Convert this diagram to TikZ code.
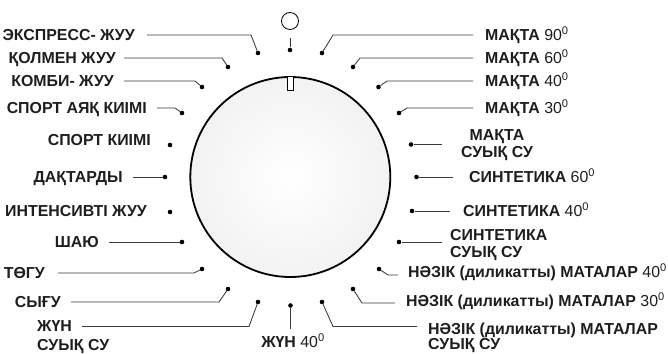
\documentclass[tikz,border=0pt]{standalone}
\usepackage{fontspec}
\setmainfont{Liberation Sans}
\usetikzlibrary{calc}
\definecolor{txt}{HTML}{1E1E1E}
\definecolor{linec}{HTML}{3A3A3A}
\newcommand{\degnum}[1]{\mdseries #1\textsuperscript{0}}
\begin{document}
\begin{tikzpicture}[x=1pt,y=-1pt,
  lblbase/.style={font=\fontsize{15.9}{17}\selectfont\bfseries, inner sep=0pt, text=txt},
  lbl/.style={lblbase, text height=11.4pt, text depth=0pt},
  conn/.style={draw=linec, line width=0.85pt},
  dotst/.style={circle, fill=black, inner sep=0pt, minimum size=4.6pt},
]
\useasboundingbox (0,0) rectangle (668,353);

% dial
\node[circle, draw=black, line width=1.8pt, minimum size=200pt, inner sep=0pt,
      inner color=white, outer color=gray!10] (dial) at (290.3,177) {};
\node[draw=black, fill=white, line width=0.6pt, minimum width=6pt, minimum height=14pt,
      inner sep=0pt, anchor=north] (mark) at (dial.north) {};
\node[circle, draw=black, line width=0.8pt, minimum size=17pt, inner sep=0pt] (off) at (290,21) {};

% dots
\node[dotst] (d90)  at (290,50) {};
\node[dotst] (d105) at (258,53) {};
\node[dotst] (d120) at (228,67) {};
\node[dotst] (d135) at (202,87) {};
\node[dotst] (d150) at (182,113) {};
\node[dotst] (d165) at (170,145) {};
\node[dotst] (d180) at (165,177) {};
\node[dotst] (d195) at (170,212) {};
\node[dotst] (d210) at (182,242) {};
\node[dotst] (d225) at (202,269) {};
\node[dotst] (d240) at (228,289) {};
\node[dotst] (d255) at (258,302) {};
\node[dotst] (d270) at (290.5,305.5) {};
\node[dotst] (d285) at (322,302) {};
\node[dotst] (d300) at (353,289) {};
\node[dotst] (d315) at (379,269) {};
\node[dotst] (d330) at (399,242) {};
\node[dotst] (d345) at (412,211) {};
\node[dotst] (d0)   at (416.5,177) {};
\node[dotst] (d15)  at (411,144.5) {};
\node[dotst] (d30)  at (399,113) {};
\node[dotst] (d45)  at (378.5,87) {};
\node[dotst] (d60)  at (353,67) {};
\node[dotst] (d75)  at (322,53) {};

% left labels
\node[lbl, anchor=east] (l105) at (135,35) {ЭКСПРЕСС- ЖУУ};
\node[lbl, anchor=east] (l120) at (116,58) {ҚОЛМЕН ЖУУ};
\node[lbl, anchor=east] (l135) at (114,81) {КОМБИ- ЖУУ};
\node[lbl, anchor=east] (l150) at (147,108) {СПОРТ АЯҚ КИІМІ};
\node[lbl, anchor=east] (l165) at (151,140) {СПОРТ КИІМІ};
\node[lbl, anchor=east] (l180) at (123,177) {ДАҚТАРДЫ};
\node[lbl, anchor=east] (l195) at (147,211) {ИНТЕНСИВТІ ЖУУ};
\node[lbl, anchor=east] (l210) at (99,242) {ШАЮ};
\node[lbl, anchor=east] (l225) at (45,273) {ТӨГУ};
\node[lbl, anchor=east] (l240) at (61,302) {СЫҒУ};
\node[lblbase, font=\fontsize{15.9}{18.5}\selectfont\bfseries, align=left, anchor=north west] (l255) at (37,320.8) {ЖҮН\\СУЫҚ СУ};
\node[lbl, anchor=center] (l270) at (293,342) {ЖҮН \degnum{40}};

% right labels
\node[lbl, anchor=west] (l75) at (485,35) {МАҚТА \degnum{90}};
\node[lbl, anchor=west] (l60) at (485,58) {МАҚТА \degnum{60}};
\node[lbl, anchor=west] (l45) at (485,81) {МАҚТА \degnum{40}};
\node[lbl, anchor=west] (l30) at (485,108) {МАҚТА \degnum{30}};
\node[lblbase, align=center, anchor=north] (l15) at (497,129.3) {МАҚТА\\СУЫҚ СУ};
\node[lbl, anchor=west] (l0) at (469,177) {СИНТЕТИКА \degnum{60}};
\node[lbl, anchor=west] (l345) at (463,211) {СИНТЕТИКА \degnum{40}};
\node[lblbase, font=\fontsize{15.9}{16.7}\selectfont\bfseries, align=left, anchor=north west] (l330) at (450,229.2) {СИНТЕТИКА\\СУЫҚ СУ};
\node[lbl, anchor=west] (l315) at (408,272) {НӘЗІК (диликатты) МАТАЛАР \degnum{40}};
\node[lbl, anchor=west] (l300) at (406,301) {НӘЗІК (диликатты) МАТАЛАР \degnum{30}};
\node[lblbase, font=\fontsize{15.9}{13.4}\selectfont\bfseries, align=left, anchor=north west] (l285) at (428,322.3) {НӘЗІК (диликатты) МАТАЛАР\\СУЫҚ СУ};

% bend points and free ends
\coordinate (b105) at (251,35);
\coordinate (b120) at (222,58);
\coordinate (b135) at (195,81);
\coordinate (b150) at (175,108);
\coordinate (b225) at (194,273);
\coordinate (b240) at (219,302);
\coordinate (e255) at (82,326.5);
\coordinate (b255) at (249,326.5);
\coordinate (e90) at (290,38);
\coordinate (e270) at (290.5,329);
\coordinate (b75) at (333,35);
\coordinate (b60) at (360,58);
\coordinate (b45) at (387,81);
\coordinate (b30) at (407,108);
\coordinate (e15) at (442,144.5);
\coordinate (e330) at (442,242);
\coordinate (b315) at (388,275);
\coordinate (e315) at (398,275);
\coordinate (b300) at (362,303);
\coordinate (e300) at (395,303);
\coordinate (b285) at (333,326.5);
\coordinate (e285) at (417,326.5);

% connectors left
\draw[conn] ([xshift=12pt]l105.east) -- (b105) -- (d105);
\draw[conn] ([xshift=8pt]l120.east) -- (b120) -- (d120);
\draw[conn] ([xshift=10pt]l135.east) -- (b135) -- (d135);
\draw[conn] ([xshift=10pt]l150.east) -- (b150) -- (d150);
\draw[conn] ([xshift=10pt]l180.east) -- (d180);
\draw[conn] ([xshift=10pt]l210.east) -- (d210);
\draw[conn] ([xshift=13pt]l225.east) -- (b225) -- (d225);
\draw[conn] ([xshift=10pt]l240.east) -- (b240) -- (d240);
\draw[conn] (e255) -- (b255) -- (d255);
\draw[conn] (d90) -- (e90);
\draw[conn] (d270) -- (e270);

% connectors right
\draw[conn] (d75) -- (b75) -- ([xshift=-12pt]l75.west);
\draw[conn] (d60) -- (b60) -- ([xshift=-12pt]l60.west);
\draw[conn] (d45) -- (b45) -- ([xshift=-12pt]l45.west);
\draw[conn] (d30) -- (b30) -- ([xshift=-12pt]l30.west);
\draw[conn] (d15) -- (e15);
\draw[conn] (d0) -- ([xshift=-16pt]l0.west);
\draw[conn] (d345) -- ([xshift=-13pt]l345.west);
\draw[conn] (d330) -- (e330);
\draw[conn] (d315) -- (b315) -- (e315);
\draw[conn] (d300) -- (b300) -- (e300);
\draw[conn] (d285) -- (b285) -- (e285);
\end{tikzpicture}
\end{document}
